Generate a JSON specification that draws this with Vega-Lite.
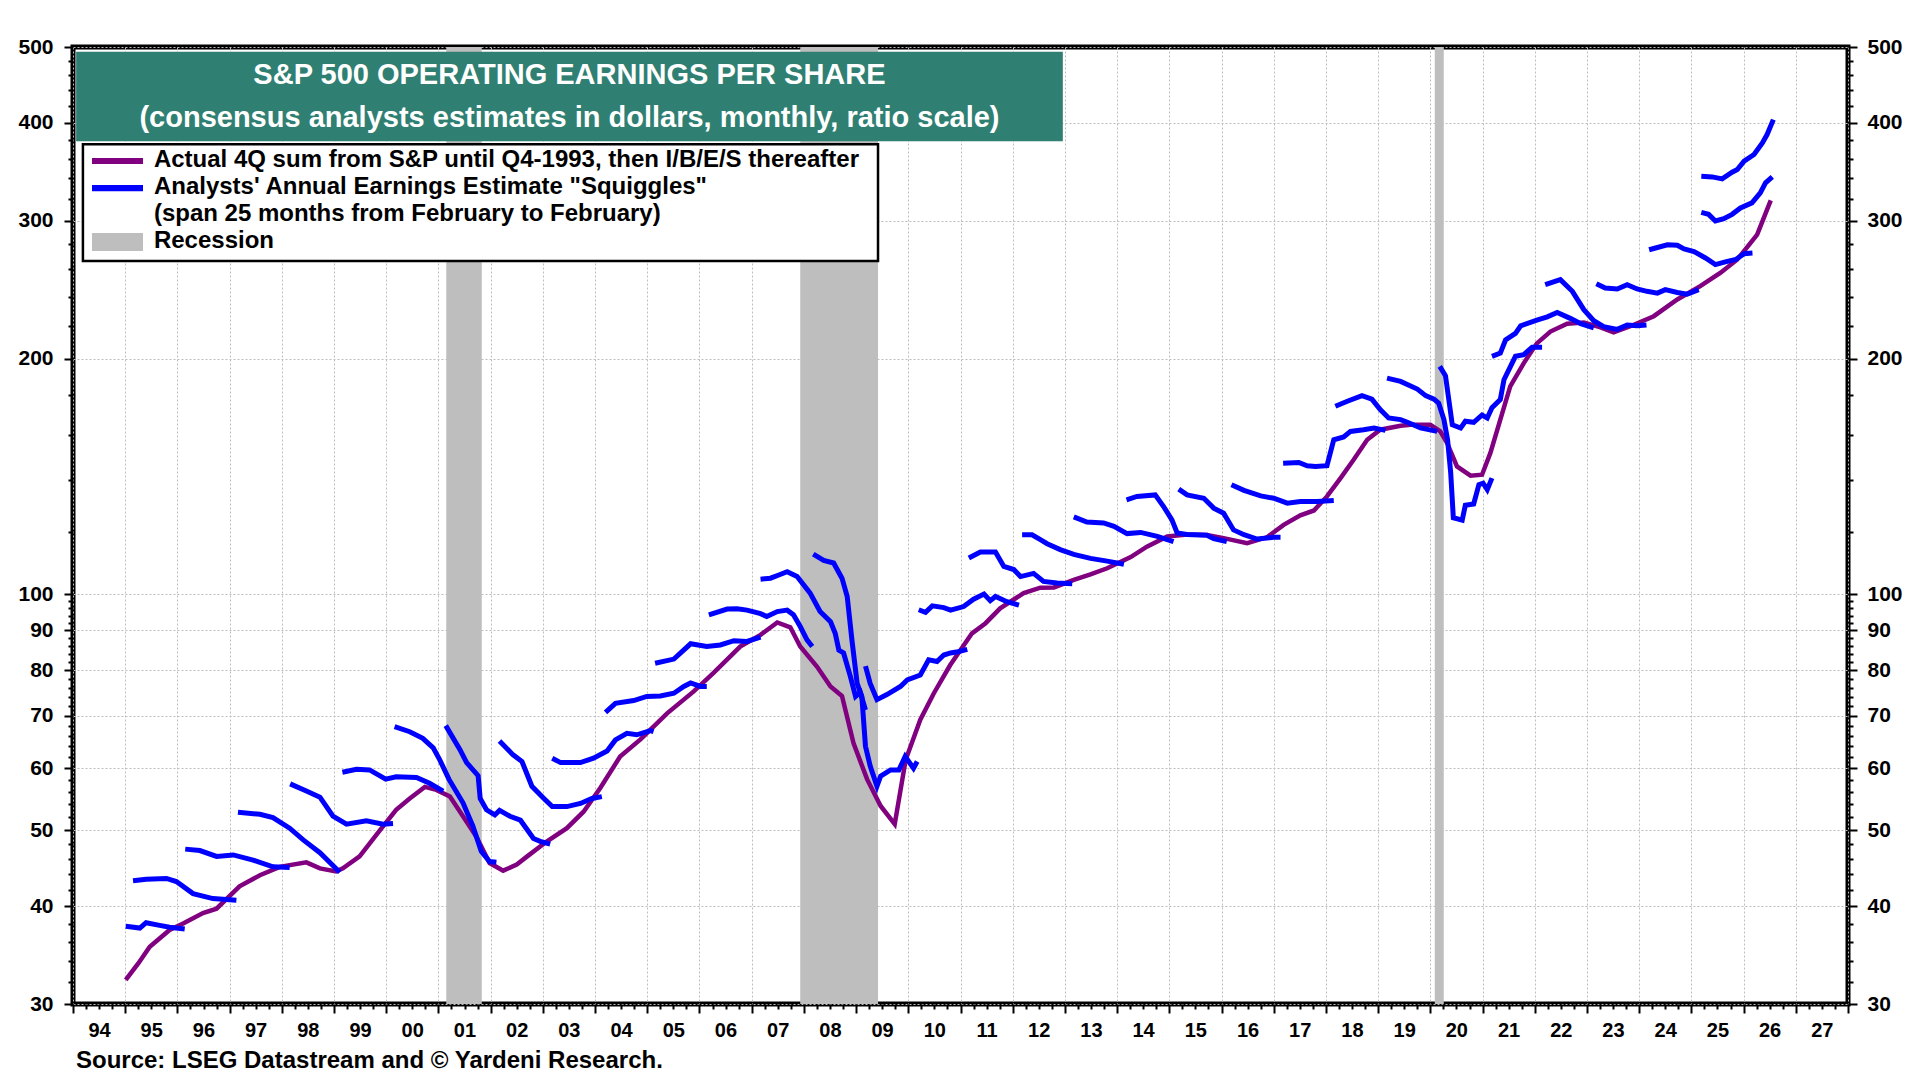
{
  "$schema": "https://vega.github.io/schema/vega-lite/v6.json",
  "width": 1775,
  "height": 957,
  "autosize": {"type": "none"},
  "padding": {"left": 73, "top": 47, "right": 72, "bottom": 76},
  "background": "white",
  "config": {
    "font": "Liberation Sans",
    "view": {"stroke": "black", "strokeWidth": 5}
  },
  "title": {
    "text": "Source: LSEG Datastream and © Yardeni Research.",
    "orient": "bottom",
    "anchor": "start",
    "frame": "group",
    "offset": 9,
    "dx": 3,
    "font": "Liberation Sans",
    "fontSize": 24,
    "fontWeight": "bold",
    "color": "black"
  },
  "datasets": {
    "recessions": [
      {"start": 2001.15, "end": 2001.83},
      {"start": 2007.93, "end": 2009.42},
      {"start": 2020.085, "end": 2020.257}
    ],
    "actual": [
      {"year": 1995.01, "eps": 32.2}, {"year": 1995.25, "eps": 33.8}, {"year": 1995.47, "eps": 35.5},
      {"year": 1995.85, "eps": 37.3}, {"year": 1996.11, "eps": 38.0}, {"year": 1996.49, "eps": 39.2},
      {"year": 1996.75, "eps": 39.7}, {"year": 1997.19, "eps": 42.4}, {"year": 1997.58, "eps": 43.8},
      {"year": 1997.96, "eps": 44.9}, {"year": 1998.47, "eps": 45.5}, {"year": 1998.73, "eps": 44.7},
      {"year": 1999.04, "eps": 44.3}, {"year": 1999.17, "eps": 44.7}, {"year": 1999.49, "eps": 46.3},
      {"year": 1999.87, "eps": 49.9}, {"year": 2000.19, "eps": 53.1}, {"year": 2000.45, "eps": 54.9},
      {"year": 2000.74, "eps": 56.8}, {"year": 2000.96, "eps": 56.3}, {"year": 2001.22, "eps": 55.2},
      {"year": 2001.47, "eps": 52.1}, {"year": 2001.73, "eps": 49.0}, {"year": 2001.98, "eps": 45.4},
      {"year": 2002.24, "eps": 44.4}, {"year": 2002.5, "eps": 45.2}, {"year": 2002.7, "eps": 46.3},
      {"year": 2003.08, "eps": 48.4}, {"year": 2003.46, "eps": 50.3}, {"year": 2003.78, "eps": 52.8},
      {"year": 2004.1, "eps": 56.6}, {"year": 2004.48, "eps": 62.1}, {"year": 2004.87, "eps": 65.3},
      {"year": 2005.38, "eps": 70.5}, {"year": 2005.89, "eps": 75.2}, {"year": 2006.27, "eps": 79.4},
      {"year": 2006.78, "eps": 85.8}, {"year": 2007.17, "eps": 88.8}, {"year": 2007.49, "eps": 92.1},
      {"year": 2007.74, "eps": 90.8}, {"year": 2007.93, "eps": 85.8}, {"year": 2008.25, "eps": 80.9},
      {"year": 2008.51, "eps": 76.3}, {"year": 2008.73, "eps": 74.2}, {"year": 2008.95, "eps": 64.6},
      {"year": 2009.21, "eps": 58.1}, {"year": 2009.47, "eps": 53.7}, {"year": 2009.74, "eps": 50.9},
      {"year": 2009.95, "eps": 61.5}, {"year": 2010.23, "eps": 69.2}, {"year": 2010.49, "eps": 74.8},
      {"year": 2010.8, "eps": 81.2}, {"year": 2011.22, "eps": 89.2}, {"year": 2011.48, "eps": 91.9},
      {"year": 2011.76, "eps": 96.0}, {"year": 2012.21, "eps": 100.4}, {"year": 2012.53, "eps": 102.0},
      {"year": 2012.79, "eps": 102.1}, {"year": 2013.17, "eps": 104.4}, {"year": 2013.49, "eps": 106.1},
      {"year": 2013.81, "eps": 108.0}, {"year": 2014.26, "eps": 111.6}, {"year": 2014.57, "eps": 115.1},
      {"year": 2014.96, "eps": 118.6}, {"year": 2015.34, "eps": 119.3}, {"year": 2015.72, "eps": 119.1},
      {"year": 2016.04, "eps": 118.0}, {"year": 2016.49, "eps": 116.3}, {"year": 2016.87, "eps": 118.3},
      {"year": 2017.19, "eps": 122.7}, {"year": 2017.51, "eps": 126.2}, {"year": 2017.77, "eps": 128.0},
      {"year": 2018.02, "eps": 133.4}, {"year": 2018.28, "eps": 140.8}, {"year": 2018.53, "eps": 148.6},
      {"year": 2018.79, "eps": 157.6}, {"year": 2019.04, "eps": 162.3}, {"year": 2019.43, "eps": 164.2},
      {"year": 2019.62, "eps": 164.7}, {"year": 2020.0, "eps": 164.7}, {"year": 2020.19, "eps": 161.5},
      {"year": 2020.32, "eps": 156.1}, {"year": 2020.51, "eps": 145.7}, {"year": 2020.77, "eps": 141.8},
      {"year": 2020.99, "eps": 142.2}, {"year": 2021.15, "eps": 151.6}, {"year": 2021.34, "eps": 167.2},
      {"year": 2021.53, "eps": 184.4}, {"year": 2021.79, "eps": 197.4}, {"year": 2022.04, "eps": 209.2},
      {"year": 2022.3, "eps": 216.6}, {"year": 2022.62, "eps": 221.7}, {"year": 2022.94, "eps": 222.5},
      {"year": 2023.26, "eps": 219.3}, {"year": 2023.51, "eps": 216.1}, {"year": 2023.83, "eps": 220.0},
      {"year": 2024.28, "eps": 226.6}, {"year": 2024.73, "eps": 238.0}, {"year": 2025.17, "eps": 247.5},
      {"year": 2025.56, "eps": 257.5}, {"year": 2025.88, "eps": 267.7}, {"year": 2026.26, "eps": 288.0},
      {"year": 2026.52, "eps": 318.5}
    ],
    "squiggles": [
      {"est": 1995, "year": 1995.01, "eps": 37.7}, {"est": 1995, "year": 1995.28, "eps": 37.5}, {"est": 1995, "year": 1995.4, "eps": 38.1},
      {"est": 1995, "year": 1995.66, "eps": 37.8}, {"est": 1995, "year": 1995.85, "eps": 37.6}, {"est": 1995, "year": 1996.14, "eps": 37.4},

      {"est": 1996, "year": 1995.15, "eps": 43.1}, {"est": 1996, "year": 1995.4, "eps": 43.3}, {"est": 1996, "year": 1995.79, "eps": 43.4},
      {"est": 1996, "year": 1995.98, "eps": 43.0}, {"est": 1996, "year": 1996.3, "eps": 41.5}, {"est": 1996, "year": 1996.68, "eps": 40.9},
      {"est": 1996, "year": 1997.13, "eps": 40.7},

      {"est": 1997, "year": 1996.15, "eps": 47.3}, {"est": 1997, "year": 1996.43, "eps": 47.1}, {"est": 1997, "year": 1996.75, "eps": 46.3},
      {"est": 1997, "year": 1997.07, "eps": 46.5}, {"est": 1997, "year": 1997.45, "eps": 45.8}, {"est": 1997, "year": 1997.83, "eps": 44.9},
      {"est": 1997, "year": 1998.15, "eps": 44.8},

      {"est": 1998, "year": 1997.16, "eps": 52.7}, {"est": 1998, "year": 1997.58, "eps": 52.4}, {"est": 1998, "year": 1997.83, "eps": 51.9},
      {"est": 1998, "year": 1998.15, "eps": 50.3}, {"est": 1998, "year": 1998.41, "eps": 48.6}, {"est": 1998, "year": 1998.73, "eps": 46.8},
      {"est": 1998, "year": 1999.11, "eps": 44.2},

      {"est": 1999, "year": 1998.16, "eps": 57.3}, {"est": 1999, "year": 1998.47, "eps": 56.1}, {"est": 1999, "year": 1998.73, "eps": 55.1},
      {"est": 1999, "year": 1998.98, "eps": 52.1}, {"est": 1999, "year": 1999.24, "eps": 50.9}, {"est": 1999, "year": 1999.62, "eps": 51.4},
      {"est": 1999, "year": 1999.94, "eps": 50.9}, {"est": 1999, "year": 2000.13, "eps": 51.0},

      {"est": 2000, "year": 1999.16, "eps": 59.3}, {"est": 2000, "year": 1999.43, "eps": 59.8}, {"est": 2000, "year": 1999.68, "eps": 59.7},
      {"est": 2000, "year": 1999.99, "eps": 58.1}, {"est": 2000, "year": 2000.19, "eps": 58.5}, {"est": 2000, "year": 2000.58, "eps": 58.4},
      {"est": 2000, "year": 2000.83, "eps": 57.4}, {"est": 2000, "year": 2001.09, "eps": 56.1},

      {"est": 2001, "year": 2000.16, "eps": 67.8}, {"est": 2001, "year": 2000.45, "eps": 66.8}, {"est": 2001, "year": 2000.7, "eps": 65.5},
      {"est": 2001, "year": 2000.9, "eps": 63.7}, {"est": 2001, "year": 2001.02, "eps": 61.6}, {"est": 2001, "year": 2001.2, "eps": 58.1},
      {"est": 2001, "year": 2001.47, "eps": 54.2}, {"est": 2001, "year": 2001.66, "eps": 50.6}, {"est": 2001, "year": 2001.82, "eps": 47.0},
      {"est": 2001, "year": 2001.98, "eps": 45.6}, {"est": 2001, "year": 2002.11, "eps": 45.5},

      {"est": 2002, "year": 2001.14, "eps": 68.0}, {"est": 2002, "year": 2001.41, "eps": 63.4}, {"est": 2002, "year": 2001.54, "eps": 61.0},
      {"est": 2002, "year": 2001.76, "eps": 58.7}, {"est": 2002, "year": 2001.8, "eps": 54.9}, {"est": 2002, "year": 2001.92, "eps": 53.1},
      {"est": 2002, "year": 2002.08, "eps": 52.3}, {"est": 2002, "year": 2002.17, "eps": 53.0}, {"est": 2002, "year": 2002.37, "eps": 52.1},
      {"est": 2002, "year": 2002.57, "eps": 51.5}, {"est": 2002, "year": 2002.82, "eps": 48.8}, {"est": 2002, "year": 2002.95, "eps": 48.4},
      {"est": 2002, "year": 2003.14, "eps": 48.0},

      {"est": 2003, "year": 2002.17, "eps": 65.0}, {"est": 2003, "year": 2002.43, "eps": 62.4}, {"est": 2003, "year": 2002.6, "eps": 61.2},
      {"est": 2003, "year": 2002.79, "eps": 56.9}, {"est": 2003, "year": 2003.02, "eps": 54.9}, {"est": 2003, "year": 2003.18, "eps": 53.6},
      {"est": 2003, "year": 2003.46, "eps": 53.6}, {"est": 2003, "year": 2003.72, "eps": 54.1}, {"est": 2003, "year": 2003.94, "eps": 54.9},
      {"est": 2003, "year": 2004.13, "eps": 55.2},

      {"est": 2004, "year": 2003.18, "eps": 61.8}, {"est": 2004, "year": 2003.34, "eps": 61.0}, {"est": 2004, "year": 2003.72, "eps": 61.0},
      {"est": 2004, "year": 2003.97, "eps": 61.8}, {"est": 2004, "year": 2004.23, "eps": 63.1}, {"est": 2004, "year": 2004.39, "eps": 65.2},
      {"est": 2004, "year": 2004.61, "eps": 66.5}, {"est": 2004, "year": 2004.8, "eps": 66.2}, {"est": 2004, "year": 2005.06, "eps": 67.0},
      {"est": 2004, "year": 2005.12, "eps": 66.8},

      {"est": 2005, "year": 2004.2, "eps": 70.7}, {"est": 2005, "year": 2004.39, "eps": 72.6}, {"est": 2005, "year": 2004.74, "eps": 73.2},
      {"est": 2005, "year": 2004.99, "eps": 74.1}, {"est": 2005, "year": 2005.25, "eps": 74.2}, {"est": 2005, "year": 2005.51, "eps": 74.8},
      {"est": 2005, "year": 2005.7, "eps": 76.3}, {"est": 2005, "year": 2005.83, "eps": 77.1}, {"est": 2005, "year": 2006.02, "eps": 76.3},
      {"est": 2005, "year": 2006.14, "eps": 76.3},

      {"est": 2006, "year": 2005.15, "eps": 81.7}, {"est": 2006, "year": 2005.51, "eps": 82.7}, {"est": 2006, "year": 2005.83, "eps": 86.5},
      {"est": 2006, "year": 2006.14, "eps": 85.8}, {"est": 2006, "year": 2006.4, "eps": 86.2}, {"est": 2006, "year": 2006.66, "eps": 87.3},
      {"est": 2006, "year": 2006.91, "eps": 87.1}, {"est": 2006, "year": 2007.17, "eps": 88.2},

      {"est": 2007, "year": 2006.18, "eps": 94.2}, {"est": 2007, "year": 2006.53, "eps": 95.8}, {"est": 2007, "year": 2006.72, "eps": 95.9},
      {"est": 2007, "year": 2006.91, "eps": 95.5}, {"est": 2007, "year": 2007.17, "eps": 94.5}, {"est": 2007, "year": 2007.29, "eps": 93.7},
      {"est": 2007, "year": 2007.49, "eps": 95.1}, {"est": 2007, "year": 2007.68, "eps": 95.5}, {"est": 2007, "year": 2007.8, "eps": 94.2},
      {"est": 2007, "year": 2007.93, "eps": 91.0}, {"est": 2007, "year": 2008.06, "eps": 87.5}, {"est": 2007, "year": 2008.16, "eps": 85.8},

      {"est": 2008, "year": 2007.17, "eps": 104.6}, {"est": 2008, "year": 2007.36, "eps": 104.9}, {"est": 2008, "year": 2007.52, "eps": 105.9},
      {"est": 2008, "year": 2007.68, "eps": 106.9}, {"est": 2008, "year": 2007.87, "eps": 105.4}, {"est": 2008, "year": 2008.12, "eps": 100.4},
      {"est": 2008, "year": 2008.31, "eps": 95.1}, {"est": 2008, "year": 2008.51, "eps": 92.3}, {"est": 2008, "year": 2008.6, "eps": 89.2},
      {"est": 2008, "year": 2008.67, "eps": 84.9}, {"est": 2008, "year": 2008.76, "eps": 84.2}, {"est": 2008, "year": 2008.89, "eps": 78.6},
      {"est": 2008, "year": 2008.99, "eps": 74.1}, {"est": 2008, "year": 2009.08, "eps": 75.0}, {"est": 2008, "year": 2009.18, "eps": 71.2},

      {"est": 2009, "year": 2008.18, "eps": 112.6}, {"est": 2009, "year": 2008.38, "eps": 110.5}, {"est": 2009, "year": 2008.57, "eps": 109.7},
      {"est": 2009, "year": 2008.73, "eps": 104.9}, {"est": 2009, "year": 2008.83, "eps": 99.4}, {"est": 2009, "year": 2008.92, "eps": 87.5},
      {"est": 2009, "year": 2009.02, "eps": 77.0}, {"est": 2009, "year": 2009.11, "eps": 74.1}, {"est": 2009, "year": 2009.18, "eps": 64.0},
      {"est": 2009, "year": 2009.27, "eps": 60.4}, {"est": 2009, "year": 2009.4, "eps": 56.9}, {"est": 2009, "year": 2009.47, "eps": 58.6},
      {"est": 2009, "year": 2009.66, "eps": 59.7}, {"est": 2009, "year": 2009.82, "eps": 59.7}, {"est": 2009, "year": 2009.94, "eps": 62.1},
      {"est": 2009, "year": 2010.1, "eps": 60.0}, {"est": 2009, "year": 2010.17, "eps": 61.2},

      {"est": 2010, "year": 2009.18, "eps": 81.0}, {"est": 2010, "year": 2009.27, "eps": 77.0}, {"est": 2010, "year": 2009.4, "eps": 73.4},
      {"est": 2010, "year": 2009.59, "eps": 74.5}, {"est": 2010, "year": 2009.85, "eps": 76.3}, {"est": 2010, "year": 2009.98, "eps": 77.8},
      {"est": 2010, "year": 2010.23, "eps": 78.9}, {"est": 2010, "year": 2010.39, "eps": 82.5}, {"est": 2010, "year": 2010.55, "eps": 82.1},
      {"est": 2010, "year": 2010.68, "eps": 83.7}, {"est": 2010, "year": 2010.81, "eps": 84.2}, {"est": 2010, "year": 2010.95, "eps": 84.5},
      {"est": 2010, "year": 2011.13, "eps": 85.1},

      {"est": 2011, "year": 2010.2, "eps": 95.6}, {"est": 2011, "year": 2010.33, "eps": 94.9}, {"est": 2011, "year": 2010.46, "eps": 96.7},
      {"est": 2011, "year": 2010.68, "eps": 96.2}, {"est": 2011, "year": 2010.81, "eps": 95.5}, {"est": 2011, "year": 2011.06, "eps": 96.5},
      {"est": 2011, "year": 2011.25, "eps": 98.6}, {"est": 2011, "year": 2011.45, "eps": 100.1}, {"est": 2011, "year": 2011.57, "eps": 98.2},
      {"est": 2011, "year": 2011.67, "eps": 99.4}, {"est": 2011, "year": 2011.89, "eps": 97.9}, {"est": 2011, "year": 2012.12, "eps": 96.9},

      {"est": 2012, "year": 2011.16, "eps": 111.3}, {"est": 2012, "year": 2011.38, "eps": 113.3}, {"est": 2012, "year": 2011.67, "eps": 113.3},
      {"est": 2012, "year": 2011.83, "eps": 108.6}, {"est": 2012, "year": 2012.02, "eps": 107.6}, {"est": 2012, "year": 2012.15, "eps": 105.4},
      {"est": 2012, "year": 2012.4, "eps": 106.4}, {"est": 2012, "year": 2012.59, "eps": 103.9}, {"est": 2012, "year": 2012.85, "eps": 103.4},
      {"est": 2012, "year": 2013.14, "eps": 103.2},

      {"est": 2013, "year": 2012.18, "eps": 119.2}, {"est": 2013, "year": 2012.37, "eps": 119.2}, {"est": 2013, "year": 2012.53, "eps": 117.5},
      {"est": 2013, "year": 2012.66, "eps": 116.1}, {"est": 2013, "year": 2012.91, "eps": 114.1}, {"est": 2013, "year": 2013.17, "eps": 112.5},
      {"est": 2013, "year": 2013.49, "eps": 111.2}, {"est": 2013, "year": 2013.81, "eps": 110.3}, {"est": 2013, "year": 2014.13, "eps": 109.3},

      {"est": 2014, "year": 2013.17, "eps": 125.6}, {"est": 2014, "year": 2013.42, "eps": 123.7}, {"est": 2014, "year": 2013.74, "eps": 123.4},
      {"est": 2014, "year": 2013.94, "eps": 122.2}, {"est": 2014, "year": 2014.19, "eps": 119.6}, {"est": 2014, "year": 2014.45, "eps": 120.0},
      {"est": 2014, "year": 2014.77, "eps": 118.6}, {"est": 2014, "year": 2015.08, "eps": 116.8},

      {"est": 2015, "year": 2014.18, "eps": 132.1}, {"est": 2015, "year": 2014.38, "eps": 133.4}, {"est": 2015, "year": 2014.73, "eps": 134.0},
      {"est": 2015, "year": 2014.89, "eps": 129.5}, {"est": 2015, "year": 2015.05, "eps": 124.5}, {"est": 2015, "year": 2015.15, "eps": 119.8},
      {"est": 2015, "year": 2015.34, "eps": 119.3}, {"est": 2015, "year": 2015.72, "eps": 119.0}, {"est": 2015, "year": 2015.85, "eps": 117.8},
      {"est": 2015, "year": 2016.1, "eps": 116.8},

      {"est": 2016, "year": 2015.18, "eps": 136.3}, {"est": 2016, "year": 2015.34, "eps": 134.0}, {"est": 2016, "year": 2015.66, "eps": 132.7},
      {"est": 2016, "year": 2015.85, "eps": 128.9}, {"est": 2016, "year": 2016.04, "eps": 127.0}, {"est": 2016, "year": 2016.23, "eps": 120.9},
      {"est": 2016, "year": 2016.43, "eps": 119.2}, {"est": 2016, "year": 2016.68, "eps": 117.7}, {"est": 2016, "year": 2017.0, "eps": 118.3},
      {"est": 2016, "year": 2017.13, "eps": 118.3},

      {"est": 2017, "year": 2016.19, "eps": 138.1}, {"est": 2017, "year": 2016.43, "eps": 135.8}, {"est": 2017, "year": 2016.75, "eps": 133.6},
      {"est": 2017, "year": 2017.0, "eps": 132.7}, {"est": 2017, "year": 2017.26, "eps": 130.8}, {"est": 2017, "year": 2017.51, "eps": 131.4},
      {"est": 2017, "year": 2017.83, "eps": 131.4}, {"est": 2017, "year": 2018.15, "eps": 131.8},

      {"est": 2018, "year": 2017.18, "eps": 147.1}, {"est": 2018, "year": 2017.48, "eps": 147.4}, {"est": 2018, "year": 2017.64, "eps": 146.0},
      {"est": 2018, "year": 2017.8, "eps": 145.7}, {"est": 2018, "year": 2018.02, "eps": 146.0}, {"est": 2018, "year": 2018.15, "eps": 157.6},
      {"est": 2018, "year": 2018.34, "eps": 158.9}, {"est": 2018, "year": 2018.47, "eps": 161.5}, {"est": 2018, "year": 2018.72, "eps": 162.3},
      {"est": 2018, "year": 2018.92, "eps": 163.1}, {"est": 2018, "year": 2019.14, "eps": 162.0},

      {"est": 2019, "year": 2018.18, "eps": 173.9}, {"est": 2019, "year": 2018.41, "eps": 176.5}, {"est": 2019, "year": 2018.69, "eps": 179.4},
      {"est": 2019, "year": 2018.88, "eps": 177.6}, {"est": 2019, "year": 2019.04, "eps": 172.2}, {"est": 2019, "year": 2019.2, "eps": 168.0},
      {"est": 2019, "year": 2019.43, "eps": 167.2}, {"est": 2019, "year": 2019.56, "eps": 165.9}, {"est": 2019, "year": 2019.81, "eps": 163.2},
      {"est": 2019, "year": 2020.13, "eps": 161.5},

      {"est": 2020, "year": 2019.17, "eps": 188.9}, {"est": 2020, "year": 2019.43, "eps": 187.1}, {"est": 2020, "year": 2019.75, "eps": 182.9},
      {"est": 2020, "year": 2019.91, "eps": 179.4}, {"est": 2020, "year": 2020.07, "eps": 177.6}, {"est": 2020, "year": 2020.16, "eps": 175.5},
      {"est": 2020, "year": 2020.26, "eps": 167.2}, {"est": 2020, "year": 2020.33, "eps": 157.6}, {"est": 2020, "year": 2020.39, "eps": 142.9},
      {"est": 2020, "year": 2020.44, "eps": 125.3}, {"est": 2020, "year": 2020.61, "eps": 124.4}, {"est": 2020, "year": 2020.67, "eps": 130.0},
      {"est": 2020, "year": 2020.83, "eps": 130.5}, {"est": 2020, "year": 2020.93, "eps": 138.1}, {"est": 2020, "year": 2021.01, "eps": 138.7},
      {"est": 2020, "year": 2021.09, "eps": 136.1}, {"est": 2020, "year": 2021.18, "eps": 140.8},

      {"est": 2021, "year": 2020.18, "eps": 195.5}, {"est": 2021, "year": 2020.29, "eps": 190.2}, {"est": 2021, "year": 2020.42, "eps": 164.7},
      {"est": 2021, "year": 2020.58, "eps": 163.1}, {"est": 2021, "year": 2020.67, "eps": 166.4}, {"est": 2021, "year": 2020.83, "eps": 165.9},
      {"est": 2021, "year": 2020.99, "eps": 169.5}, {"est": 2021, "year": 2021.09, "eps": 168.0}, {"est": 2021, "year": 2021.18, "eps": 173.1},
      {"est": 2021, "year": 2021.34, "eps": 177.4}, {"est": 2021, "year": 2021.41, "eps": 188.0}, {"est": 2021, "year": 2021.63, "eps": 201.4},
      {"est": 2021, "year": 2021.79, "eps": 202.4}, {"est": 2021, "year": 2021.95, "eps": 206.9}, {"est": 2021, "year": 2022.14, "eps": 206.9},

      {"est": 2022, "year": 2021.18, "eps": 201.4}, {"est": 2022, "year": 2021.34, "eps": 203.3}, {"est": 2022, "year": 2021.44, "eps": 211.3},
      {"est": 2022, "year": 2021.63, "eps": 215.4}, {"est": 2022, "year": 2021.73, "eps": 220.3}, {"est": 2022, "year": 2022.04, "eps": 224.0},
      {"est": 2022, "year": 2022.24, "eps": 226.2}, {"est": 2022, "year": 2022.43, "eps": 229.1}, {"est": 2022, "year": 2022.69, "eps": 225.0},
      {"est": 2022, "year": 2022.88, "eps": 221.7}, {"est": 2022, "year": 2023.13, "eps": 218.9},

      {"est": 2023, "year": 2022.2, "eps": 248.6}, {"est": 2023, "year": 2022.49, "eps": 252.3}, {"est": 2023, "year": 2022.72, "eps": 243.8},
      {"est": 2023, "year": 2022.94, "eps": 231.0}, {"est": 2023, "year": 2023.13, "eps": 223.6}, {"est": 2023, "year": 2023.32, "eps": 219.7},
      {"est": 2023, "year": 2023.58, "eps": 218.0}, {"est": 2023, "year": 2023.77, "eps": 220.8}, {"est": 2023, "year": 2023.96, "eps": 220.3},
      {"est": 2023, "year": 2024.14, "eps": 220.8},

      {"est": 2024, "year": 2023.18, "eps": 249.3}, {"est": 2024, "year": 2023.35, "eps": 246.2}, {"est": 2024, "year": 2023.58, "eps": 245.5},
      {"est": 2024, "year": 2023.77, "eps": 248.6}, {"est": 2024, "year": 2023.96, "eps": 245.5}, {"est": 2024, "year": 2024.15, "eps": 243.8},
      {"est": 2024, "year": 2024.35, "eps": 242.5}, {"est": 2024, "year": 2024.5, "eps": 245.0}, {"est": 2024, "year": 2024.73, "eps": 243.0},
      {"est": 2024, "year": 2024.92, "eps": 241.8}, {"est": 2024, "year": 2025.14, "eps": 245.0},

      {"est": 2025, "year": 2024.19, "eps": 275.5}, {"est": 2025, "year": 2024.54, "eps": 279.6}, {"est": 2025, "year": 2024.73, "eps": 279.1},
      {"est": 2025, "year": 2024.86, "eps": 276.1}, {"est": 2025, "year": 2025.05, "eps": 274.1}, {"est": 2025, "year": 2025.27, "eps": 268.9},
      {"est": 2025, "year": 2025.46, "eps": 263.7}, {"est": 2025, "year": 2025.65, "eps": 265.9}, {"est": 2025, "year": 2025.85, "eps": 267.7},
      {"est": 2025, "year": 2026.01, "eps": 272.3}, {"est": 2025, "year": 2026.17, "eps": 272.8},

      {"est": 2026, "year": 2025.19, "eps": 307.5}, {"est": 2026, "year": 2025.33, "eps": 305.7}, {"est": 2026, "year": 2025.46, "eps": 299.8},
      {"est": 2026, "year": 2025.62, "eps": 301.8}, {"est": 2026, "year": 2025.78, "eps": 305.7}, {"est": 2026, "year": 2025.94, "eps": 311.5},
      {"est": 2026, "year": 2026.16, "eps": 316.2}, {"est": 2026, "year": 2026.32, "eps": 325.6}, {"est": 2026, "year": 2026.42, "eps": 335.3},
      {"est": 2026, "year": 2026.55, "eps": 341.3},

      {"est": 2027, "year": 2025.19, "eps": 342.0}, {"est": 2027, "year": 2025.4, "eps": 341.3}, {"est": 2027, "year": 2025.59, "eps": 339.3},
      {"est": 2027, "year": 2025.78, "eps": 346.0}, {"est": 2027, "year": 2025.88, "eps": 348.7}, {"est": 2027, "year": 2026.01, "eps": 357.4},
      {"est": 2027, "year": 2026.2, "eps": 364.5}, {"est": 2027, "year": 2026.36, "eps": 377.2}, {"est": 2027, "year": 2026.45, "eps": 386.5},
      {"est": 2027, "year": 2026.57, "eps": 403.9}
    ]
  },
  "resolve": {"axis": {"x": "independent", "y": "independent"}},
  "layer": [
    {
      "data": {"name": "recessions"},
      "mark": {"type": "rect", "color": "#BEBEBE"},
      "encoding": {
        "x": {"field": "start", "type": "quantitative", "title": null, "axis": null,
              "scale": {"domain": [1994, 2028], "nice": false, "zero": false}},
        "x2": {"field": "end"}
      }
    },
    {
      "data": {"values": [{}]},
      "mark": {"type": "rect", "color": "#2F7F73"},
      "encoding": {
        "x": {"datum": 1994.06, "type": "quantitative", "axis": null, "title": null},
        "x2": {"datum": 2012.96},
        "y": {"datum": 379, "type": "quantitative", "axis": null, "title": null},
        "y2": {"datum": 493}
      }
    },
    {
      "data": {"values": [{}]},
      "mark": {
        "type": "text",
        "text": ["S&P 500 OPERATING EARNINGS PER SHARE", "(consensus analysts estimates in dollars, monthly, ratio scale)"],
        "font": "Liberation Sans",
        "fontSize": 29,
        "fontWeight": "bold",
        "color": "white",
        "align": "center",
        "baseline": "middle",
        "lineHeight": 42.5
      },
      "encoding": {
        "x": {"datum": 2003.51, "type": "quantitative", "axis": null, "title": null},
        "y": {"datum": 460, "type": "quantitative", "axis": null, "title": null}
      }
    },
    {
      "data": {"values": [{}]},
      "mark": {"type": "rect", "fill": "white", "stroke": "black", "strokeWidth": 2.5},
      "encoding": {
        "x": {"datum": 1994.19, "type": "quantitative", "axis": null, "title": null},
        "x2": {"datum": 2009.42},
        "y": {"datum": 266.5, "type": "quantitative", "axis": null, "title": null},
        "y2": {"datum": 375.8}
      }
    },
    {
      "data": {"values": [{}]},
      "mark": {"type": "rect", "color": "#800080"},
      "encoding": {
        "x": {"datum": 1994.364, "type": "quantitative", "axis": null, "title": null},
        "x2": {"datum": 1995.341},
        "y": {"datum": 354.4, "type": "quantitative", "axis": null, "title": null},
        "y2": {"datum": 360.7}
      }
    },
    {
      "data": {"values": [{}]},
      "mark": {"type": "rect", "color": "#0000FF"},
      "encoding": {
        "x": {"datum": 1994.364, "type": "quantitative", "axis": null, "title": null},
        "x2": {"datum": 1995.341},
        "y": {"datum": 327.3, "type": "quantitative", "axis": null, "title": null},
        "y2": {"datum": 333.2}
      }
    },
    {
      "data": {"values": [{}]},
      "mark": {"type": "rect", "color": "#BEBEBE"},
      "encoding": {
        "x": {"datum": 1994.364, "type": "quantitative", "axis": null, "title": null},
        "x2": {"datum": 1995.341},
        "y": {"datum": 274.4, "type": "quantitative", "axis": null, "title": null},
        "y2": {"datum": 289.3}
      }
    },
    {
      "data": {"values": [{}]},
      "mark": {
        "type": "text",
        "text": [
          "Actual 4Q sum from S&P until Q4-1993, then I/B/E/S thereafter",
          "Analysts' Annual Earnings Estimate \"Squiggles\"",
          "(span 25 months from February to February)",
          "Recession"
        ],
        "font": "Liberation Sans",
        "fontSize": 24,
        "fontWeight": "bold",
        "color": "black",
        "align": "left",
        "baseline": "middle",
        "lineHeight": 27
      },
      "encoding": {
        "x": {"datum": 1995.55, "type": "quantitative", "axis": null, "title": null},
        "y": {"datum": 358.6, "type": "quantitative", "axis": null, "title": null}
      }
    },
    {
      "data": {"name": "actual"},
      "mark": {"type": "line", "color": "#800080", "strokeWidth": 4.5},
      "encoding": {
        "x": {"field": "year", "type": "quantitative", "title": null, "axis": null},
        "y": {
          "field": "eps", "type": "quantitative", "title": null,
          "scale": {"type": "log", "domain": [30, 500], "nice": false, "zero": false},
          "axis": {
            "orient": "right",
            "values": [30,32,34,36,38,40,42,44,46,48,50,52,54,56,58,60,62,64,66,68,70,72,74,76,78,80,82,84,86,88,90,92,94,96,98,100,120,140,160,180,200,220,240,260,280,300,320,340,360,380,400,420,440,460,480,500],
            "labelExpr": "indexof([30,40,50,60,70,80,90,100,200,300,400,500], datum.value) >= 0 ? format(datum.value, 'd') : ''",
            "labelOverlap": false,
            "labelFont": "Liberation Sans",
            "labelFontSize": 21,
            "labelFontWeight": "bold",
            "labelColor": "black",
            "labelPadding": 10,
            "labelAlign": "left",
            "labelBound": false,
            "grid": false,
            "domain": false,
            "tickColor": "black",
            "tickWidth": 2,
            "tickSize": {"condition": {"test": "indexof([30,40,50,60,70,80,90,100,200,300,400,500], datum.value) >= 0", "value": 9}, "value": 5}
          }
        }
      }
    },
    {
      "data": {"name": "squiggles"},
      "mark": {"type": "line", "color": "#0000FF", "strokeWidth": 5},
      "encoding": {
        "x": {
          "field": "year", "type": "quantitative", "title": null,
          "axis": {
            "orient": "bottom",
            "values": [1994,1994.25,1994.5,1994.75,1995,1995.25,1995.5,1995.75,1996,1996.25,1996.5,1996.75,1997,1997.25,1997.5,1997.75,1998,1998.25,1998.5,1998.75,1999,1999.25,1999.5,1999.75,2000,2000.25,2000.5,2000.75,2001,2001.25,2001.5,2001.75,2002,2002.25,2002.5,2002.75,2003,2003.25,2003.5,2003.75,2004,2004.25,2004.5,2004.75,2005,2005.25,2005.5,2005.75,2006,2006.25,2006.5,2006.75,2007,2007.25,2007.5,2007.75,2008,2008.25,2008.5,2008.75,2009,2009.25,2009.5,2009.75,2010,2010.25,2010.5,2010.75,2011,2011.25,2011.5,2011.75,2012,2012.25,2012.5,2012.75,2013,2013.25,2013.5,2013.75,2014,2014.25,2014.5,2014.75,2015,2015.25,2015.5,2015.75,2016,2016.25,2016.5,2016.75,2017,2017.25,2017.5,2017.75,2018,2018.25,2018.5,2018.75,2019,2019.25,2019.5,2019.75,2020,2020.25,2020.5,2020.75,2021,2021.25,2021.5,2021.75,2022,2022.25,2022.5,2022.75,2023,2023.25,2023.5,2023.75,2024,2024.25,2024.5,2024.75,2025,2025.25,2025.5,2025.75,2026,2026.25,2026.5,2026.75,2027,2027.25,2027.5,2027.75,2028],
            "labelExpr": "datum.value % 1 === 0 && datum.value < 2028 ? substring(format(datum.value, 'd'), 2, 4) : ''",
            "labelOverlap": false,
            "labelBound": false,
            "labelFlush": false,
            "labelFont": "Liberation Sans",
            "labelFontSize": 20,
            "labelFontWeight": "bold",
            "labelColor": "black",
            "labelOffset": 26,
            "labelPadding": 7,
            "domain": false,
            "tickColor": "black",
            "tickWidth": 2,
            "tickSize": {"condition": {"test": "datum.value % 1 === 0", "value": 9}, "value": 5},
            "grid": true,
            "gridColor": "#BDBDBD",
            "gridDash": [2, 2],
            "gridWidth": 1,
            "gridOpacity": {"condition": {"test": "datum.value % 1 === 0", "value": 1}, "value": 0}
          }
        },
        "y": {
          "field": "eps", "type": "quantitative", "title": null,
          "axis": {
            "orient": "left",
            "values": [30,32,34,36,38,40,42,44,46,48,50,52,54,56,58,60,62,64,66,68,70,72,74,76,78,80,82,84,86,88,90,92,94,96,98,100,120,140,160,180,200,220,240,260,280,300,320,340,360,380,400,420,440,460,480,500],
            "labelExpr": "indexof([30,40,50,60,70,80,90,100,200,300,400,500], datum.value) >= 0 ? format(datum.value, 'd') : ''",
            "labelOverlap": false,
            "labelFont": "Liberation Sans",
            "labelFontSize": 21,
            "labelFontWeight": "bold",
            "labelColor": "black",
            "labelPadding": 11,
            "labelBound": false,
            "domain": false,
            "tickColor": "black",
            "tickWidth": 2,
            "tickSize": {"condition": {"test": "indexof([30,40,50,60,70,80,90,100,200,300,400,500], datum.value) >= 0", "value": 9}, "value": 5},
            "grid": true,
            "gridColor": "#BDBDBD",
            "gridDash": [2, 2],
            "gridWidth": 1,
            "gridOpacity": {"condition": {"test": "indexof([30,40,50,60,70,80,90,100,200,300,400,500], datum.value) >= 0", "value": 1}, "value": 0}
          }
        },
        "detail": {"field": "est", "type": "nominal"}
      }
    }
  ]
}
